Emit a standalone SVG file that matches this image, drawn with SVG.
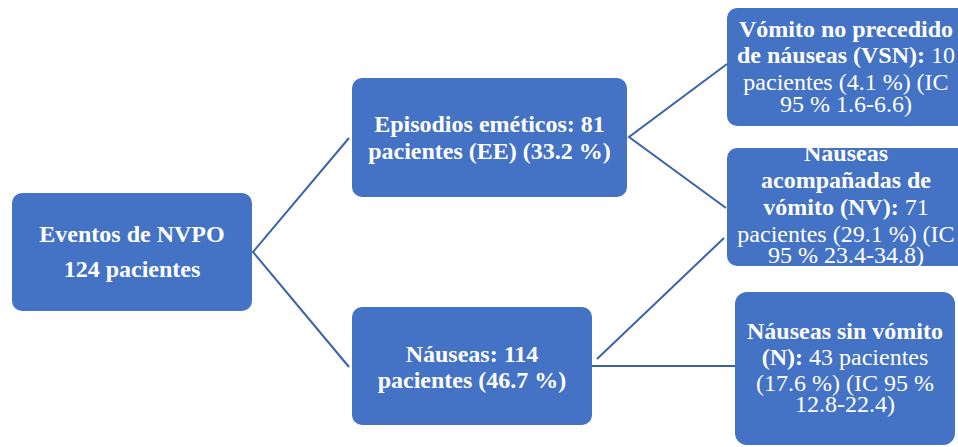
<svg xmlns="http://www.w3.org/2000/svg" width="958" height="447" viewBox="0 0 958 447">
<style>
.box{fill:#4472C4;}
.t{font-family:"Liberation Serif","Times New Roman",serif;font-size:24px;fill:#fff;text-anchor:middle;}
.b{font-weight:bold;}
.n{font-weight:normal;}
.c{stroke:#3B62AA;stroke-width:2;fill:none;}
</style>
<rect width="958" height="447" fill="#fff"/>
<g id="connectors">
<polyline class="c" points="349,138 253,252 349,367"/>
<polyline class="c" points="727,64 629,137 726,208"/>
<line class="c" x1="597" y1="359" x2="724" y2="238"/>
<line class="c" x1="592" y1="366" x2="735" y2="366"/>
</g>
<g id="root">
<rect class="box" x="12" y="193" width="240" height="118" rx="10"/>
<text class="t b" x="132" y="242">Eventos de NVPO</text>
<text class="t b" x="132" y="277">124 pacientes</text>
</g>
<g id="ee">
<rect class="box" x="352" y="78" width="275" height="119" rx="10"/>
<text class="t b" x="489.5" y="132">Episodios eméticos: 81</text>
<text class="t b" x="489.5" y="159">pacientes (EE) (33.2 %)</text>
</g>
<g id="nauseas">
<rect class="box" x="352" y="307" width="240" height="118" rx="10"/>
<text class="t b" x="472" y="362">Náuseas: 114</text>
<text class="t b" x="472" y="388">pacientes (46.7 %)</text>
</g>
<g id="vsn">
<rect class="box" x="727" y="8" width="240" height="118" rx="10"/>
<text class="t" x="846" y="37"><tspan class="b">Vómito no precedido</tspan></text>
<text class="t" x="846" y="63"><tspan class="b">de náuseas (VSN):</tspan><tspan class="n"> 10</tspan></text>
<text class="t n" x="846" y="90">pacientes (4.1 %) (IC</text>
<text class="t n" x="846" y="112">95 % 1.6-6.6)</text>
</g>
<g id="nv">
<rect class="box" x="727" y="148" width="240" height="118" rx="10"/>
<text class="t b" x="846" y="161">Náuseas</text>
<text class="t b" x="846" y="188">acompañadas de</text>
<text class="t" x="846" y="215"><tspan class="b">vómito (NV):</tspan><tspan class="n"> 71</tspan></text>
<text class="t n" x="846" y="242">pacientes (29.1 %) (IC</text>
<text class="t n" x="846" y="263">95 % 23.4-34.8)</text>
</g>
<g id="n">
<rect class="box" x="735" y="292" width="220" height="153" rx="12"/>
<text class="t b" x="845" y="339">Náuseas sin vómito</text>
<text class="t" x="845" y="365"><tspan class="b">(N):</tspan><tspan class="n"> 43 pacientes</tspan></text>
<text class="t n" x="845" y="391">(17.6 %) (IC 95 %</text>
<text class="t n" x="845" y="412">12.8-22.4)</text>
</g>
</svg>
